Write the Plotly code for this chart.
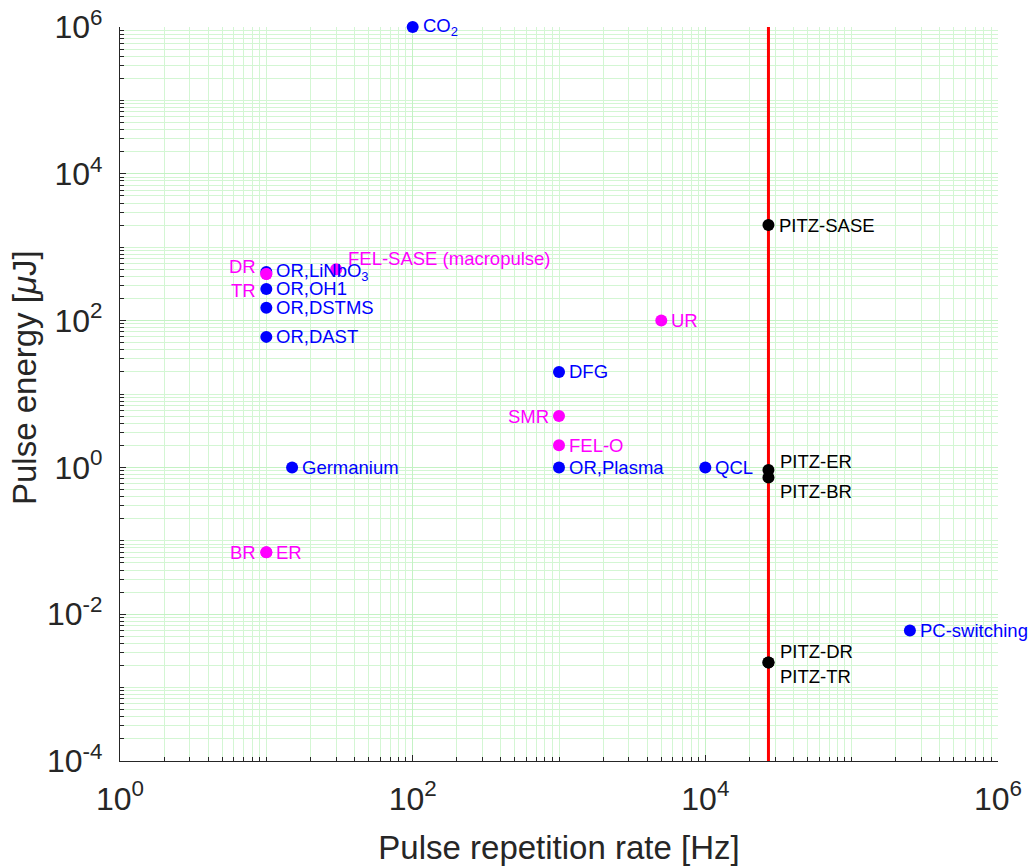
import math
import plotly.graph_objects as go

# ---------------- data ----------------
blue_names = ["CO<sub>2</sub>", "OR,LiNbO<sub>3</sub>", "OR,OH1", "OR,DSTMS", "OR,DAST",
              "DFG", "Germanium", "OR,Plasma", "QCL", "PC-switching"]
blue_rate = [100, 10, 10, 10, 10, 1000, 15, 1000, 1e4, 2.5e5]
blue_energy = [1e6, 460, 270, 150, 60, 20, 1, 1, 1, 0.006]

magenta_names = ["DR", "TR", "FEL-SASE (macropulse)", "UR", "SMR", "FEL-O", "BR", "ER"]
magenta_rate = [10, 10, 30, 5000, 1000, 1000, 10, 10]
magenta_energy = [430, 430, 500, 100, 5, 2, 0.07, 0.07]

pitz_names = ["PITZ-SASE", "PITZ-ER", "PITZ-BR", "PITZ-DR", "PITZ-TR"]
pitz_rate = [27000, 27000, 27000, 27000, 27000]
pitz_energy = [2000, 0.92, 0.73, 0.0022, 0.0022]

pitz_line_rate = 27000
energy_range = [1e-4, 1e6]

x_tickvals = [1, 1e2, 1e4, 1e6]
x_ticktext = ["10<sup>0</sup>", "10<sup>2</sup>", "10<sup>4</sup>", "10<sup>6</sup>"]
y_tickvals = [1e-4, 1e-2, 1, 1e2, 1e4, 1e6]
y_ticktext = ["10<sup>-4</sup>", "10<sup>-2</sup>", "10<sup>0</sup>",
              "10<sup>2</sup>", "10<sup>4</sup>", "10<sup>6</sup>"]

x_title = "Pulse repetition rate [Hz]"
y_title = "Pulse energy [<i>μ</i>J]"

# label placement (style): side, xshift, yshift
blue_place = [("l", 8, 0)] * 10
magenta_place = [("r", -8, 8), ("r", -8, -16), ("l", 10, 11), ("l", 8, 0),
                 ("r", -8, 0), ("l", 8, 0), ("r", -8, 0), ("l", 8, 0)]
pitz_place = [("l", 9, 0), ("l", 10, 9), ("l", 10, -14), ("l", 10, 11), ("l", 10, -14)]

BLUE = "#0000FF"
MAGENTA = "#FF00FF"
BLACK = "#000000"
FONT = "Liberation Sans, Arial, Helvetica, sans-serif"
AX = "#262626"
GRID_MAJOR = "#c4f2c4"
GRID_MINOR = "#d3f6d3"

minor_vals_x = [m * 10 ** k for k in range(0, 6) for m in range(1, 10)] + [1e6]
minor_vals_y = [m * 10 ** k for k in range(-4, 6) for m in range(1, 10)] + [1e6]

fig = go.Figure()

fig.add_trace(go.Scatter(x=[pitz_line_rate, pitz_line_rate], y=energy_range,
                         mode="lines", line=dict(color="#FF0000", width=3),
                         hoverinfo="skip", showlegend=False))

for rates, energies, color in [(blue_rate, blue_energy, BLUE),
                               (magenta_rate, magenta_energy, MAGENTA),
                               (pitz_rate, pitz_energy, BLACK)]:
    fig.add_trace(go.Scatter(x=rates, y=energies, mode="markers", cliponaxis=False,
                             marker=dict(color=color, size=12, line=dict(width=0)),
                             showlegend=False))

annotations = []
for names, rates, energies, places, color in [
        (blue_names, blue_rate, blue_energy, blue_place, BLUE),
        (magenta_names, magenta_rate, magenta_energy, magenta_place, MAGENTA),
        (pitz_names, pitz_rate, pitz_energy, pitz_place, BLACK)]:
    for n, xr, ye, (side, xs, ys) in zip(names, rates, energies, places):
        annotations.append(dict(
            x=math.log10(xr), y=math.log10(ye),
            xref="x", yref="y", text=n, showarrow=False,
            xanchor="left" if side == "l" else "right", yanchor="middle",
            xshift=xs, yshift=ys,
            font=dict(family=FONT, size=18.5, color=color)))

# y axis title as rotated annotation
annotations.append(dict(
    x=-0.108, y=0.522, xref="paper", yref="paper", text=y_title, showarrow=False,
    textangle=-90, xanchor="center", yanchor="middle",
    font=dict(family=FONT, size=33, color=AX)))

axis_common = dict(
    type="log", showline=True, linecolor=AX, linewidth=1.3,
    ticks="inside", ticklen=6, tickcolor=AX, tickwidth=1,
    showgrid=True, gridcolor=GRID_MAJOR, gridwidth=1,
    zeroline=False, mirror=False,
    tickfont=dict(family=FONT, size=32, color=AX),
    title_font=dict(family=FONT, size=33, color=AX),
)

fig.update_xaxes(**axis_common, range=[0, 6], tickmode="array",
                 tickvals=x_tickvals, ticktext=x_ticktext,
                 title_text=x_title, title_standoff=20,
                 ticklabelstandoff=9,
                 minor=dict(tickmode="array", tickvals=minor_vals_x, ticks="inside",
                            ticklen=4, tickcolor=AX, showgrid=True,
                            gridcolor=GRID_MINOR, gridwidth=1))
fig.update_yaxes(**axis_common, range=[-4, 6], tickmode="array",
                 tickvals=y_tickvals, ticktext=y_ticktext,
                 ticklabelstandoff=10,
                 minor=dict(tickmode="array", tickvals=minor_vals_y, ticks="inside",
                            ticklen=4, tickcolor=AX, showgrid=True,
                            gridcolor=GRID_MINOR, gridwidth=1))

fig.update_layout(
    width=1036, height=868,
    margin=dict(l=120, r=38, t=27, b=107, autoexpand=False),
    plot_bgcolor="white", paper_bgcolor="white",
    annotations=annotations,
    font=dict(family=FONT),
)

fig.write_html("out.html")
